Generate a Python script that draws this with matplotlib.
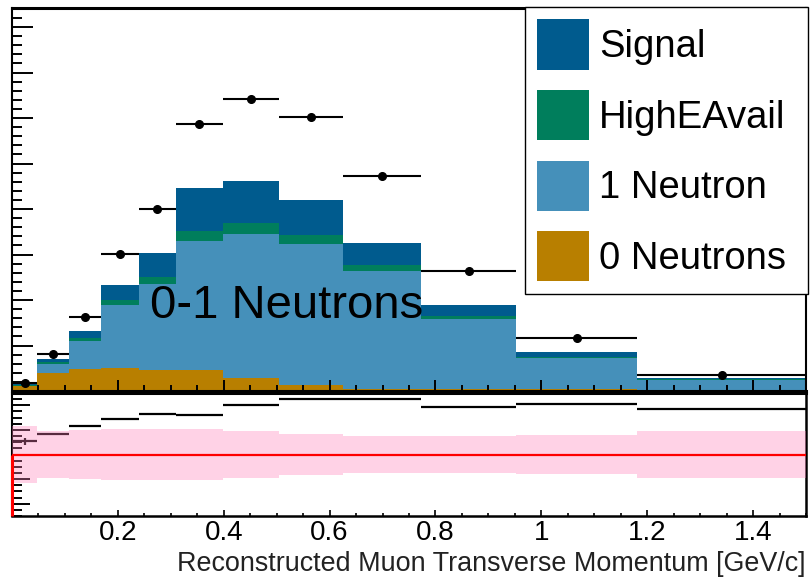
import numpy as np
import matplotlib
matplotlib.use("Agg")
import matplotlib.pyplot as plt
from matplotlib.patches import Patch
from matplotlib.ticker import MultipleLocator

plt.rcParams['font.family'] = ['Liberation Sans', 'DejaVu Sans']

# ---- data ----
bin_edges = [0.0, 0.048, 0.108, 0.169, 0.239, 0.309, 0.398, 0.504, 0.625, 0.772, 0.953, 1.181, 1.5]
zero_neutrons = [0.11, 0.40, 0.48, 0.51, 0.46, 0.46, 0.29, 0.13, 0.04, 0.04, 0.04, 0.03]
one_neutron   = [0.01, 0.19, 0.62, 1.38, 1.89, 2.84, 3.16, 3.10, 2.60, 1.54, 0.685, 0.21]
high_e_avail  = [0.01, 0.05, 0.06, 0.11, 0.16, 0.22, 0.24, 0.20, 0.13, 0.07, 0.025, 0.02]
signal        = [0.03, 0.06, 0.16, 0.33, 0.52, 0.94, 0.93, 0.77, 0.48, 0.24, 0.11, 0.03]
data_vals     = [0.18, 0.81, 1.63, 3.01, 4.00, 5.87, 6.42, 6.02, 4.73, 2.64, 1.16, 0.35]
ratio_vals    = [1.106, 1.17, 1.23, 1.29, 1.33, 1.325, 1.40, 1.45, 1.455, 1.39, 1.41, 1.37]
ratio_errs    = [0.03, 0.008, 0.005, 0.004, 0.004, 0.003, 0.003, 0.003, 0.003, 0.004, 0.005, 0.01]
mc_band_err   = [0.23, 0.19, 0.20, 0.21, 0.21, 0.21, 0.19, 0.17, 0.15, 0.15, 0.16, 0.195]

stack_labels = ["0 Neutrons", "1 Neutron", "HighEAvail", "Signal"]
stack_colors = ["#b87f00", "#4590ba", "#007e5c", "#005b8e"]
annotation = "0-1 Neutrons"
x_title = "Reconstructed Muon Transverse Momentum [GeV/c]"

edges = np.array(bin_edges)
centers = 0.5 * (edges[:-1] + edges[1:])
half_w = 0.5 * (edges[1:] - edges[:-1])

W, H = 812, 579
fig = plt.figure(figsize=(W / 100, H / 100), dpi=100)
ax1 = fig.add_axes([12 / W, 1 - 391 / H, 794 / W, 383 / H])
ax2 = fig.add_axes([12 / W, 1 - 516 / H, 794 / W, 123 / H])

# ---- top: stacked histogram ----
bottom = np.zeros(len(centers))
for comp, col in zip([zero_neutrons, one_neutron, high_e_avail, signal], stack_colors):
    top = bottom + np.array(comp)
    ax1.stairs(top, edges, baseline=bottom, fill=True, color=col, lw=0, zorder=2)
    bottom = top

ax1.errorbar(centers, data_vals, xerr=half_w, fmt='o', color='black', ms=5.5,
             lw=1.5, capsize=0, zorder=5)

ax1.set_xlim(edges[0], edges[-1])
ax1.set_ylim(0, 8.42)
ax1.xaxis.set_major_locator(MultipleLocator(0.2))
ax1.xaxis.set_minor_locator(MultipleLocator(0.05))
ax1.yaxis.set_major_locator(MultipleLocator(1))
ax1.yaxis.set_minor_locator(MultipleLocator(0.2))
ax1.tick_params(axis='x', which='both', direction='in', labelbottom=False, top=False, width=1.4)
ax1.tick_params(axis='x', which='major', length=8)
ax1.tick_params(axis='x', which='minor', length=4)
ax1.tick_params(axis='y', which='both', direction='in', labelleft=False, right=False, width=1.4)
ax1.tick_params(axis='y', which='major', length=15)
ax1.tick_params(axis='y', which='minor', length=7)
for s in ['top', 'bottom']:
    ax1.spines[s].set_linewidth(2.2)
for s in ['left', 'right']:
    ax1.spines[s].set_linewidth(1.5)
ax1.set_axisbelow(False)

ax1.text((150 - 12) / 794, (391 - 318) / 383, annotation, transform=ax1.transAxes,
         fontsize=34, ha='left', va='baseline', color='black', zorder=7)

handles = [Patch(facecolor=c, edgecolor='none') for c in stack_colors[::-1]]
leg = ax1.legend(handles, stack_labels[::-1], loc='upper left',
                 bbox_to_anchor=(0.646, 0.258, 0.356, 0.744), mode='expand',
                 fontsize=27.5, frameon=True, fancybox=False, framealpha=1,
                 edgecolor='black', borderpad=0.32, handlelength=1.37,
                 handleheight=1.65, handletextpad=0.25, labelspacing=0.53,
                 borderaxespad=0)
leg.get_frame().set_linewidth(1.0)
leg.set_zorder(10)

# ---- bottom: ratio ----
ratio_lo, ratio_hi = 0.5, 1.5
band = np.array(mc_band_err)
ax2.errorbar(centers, ratio_vals, xerr=half_w, yerr=ratio_errs, fmt='none',
             ecolor='black', lw=1.6, capsize=0, zorder=2)
ax2.stairs(1 + band, edges, baseline=1 - band, fill=True, color='#ff80b8',
           alpha=0.35, lw=0, zorder=3)
ax2.axhline(1.0, color='red', lw=1.6, zorder=4)
ax2.vlines(edges[0], ratio_lo, 1.0, color='red', lw=2.2, zorder=5, clip_on=False)

ax2.set_xlim(edges[0], edges[-1])
ax2.set_ylim(ratio_lo, ratio_hi)
ax2.xaxis.set_major_locator(MultipleLocator(0.2))
ax2.xaxis.set_minor_locator(MultipleLocator(0.05))
ax2.yaxis.set_major_locator(MultipleLocator(0.2))
ax2.yaxis.set_minor_locator(MultipleLocator(0.05))
ax2.tick_params(axis='x', which='both', direction='in', top=False, width=1.2,
                labelsize=20, pad=3)
ax2.tick_params(axis='x', which='major', length=4)
ax2.tick_params(axis='x', which='minor', length=2.5)
ax2.tick_params(axis='y', which='both', direction='in', labelleft=False, right=False, width=1.4)
ax2.tick_params(axis='y', which='major', length=13)
ax2.tick_params(axis='y', which='minor', length=7)
ax2.set_xticks([0.2, 0.4, 0.6, 0.8, 1.0, 1.2, 1.4])
ax2.set_xticklabels(["0.2", "0.4", "0.6", "0.8", "1", "1.2", "1.4"])
ax2.spines['top'].set_linewidth(2.2)
ax2.spines['bottom'].set_linewidth(1.8)
ax2.spines['left'].set_linewidth(1.5)
ax2.spines['right'].set_linewidth(1.8)

ax2.set_xlabel(x_title, fontsize=19.4, color='#222222')
ax2.xaxis.set_label_coords(1.0, (516 - 571) / 123)
ax2.xaxis.label.set_horizontalalignment('right')
ax2.xaxis.label.set_verticalalignment('baseline')

fig.savefig("out.png", dpi=100)
